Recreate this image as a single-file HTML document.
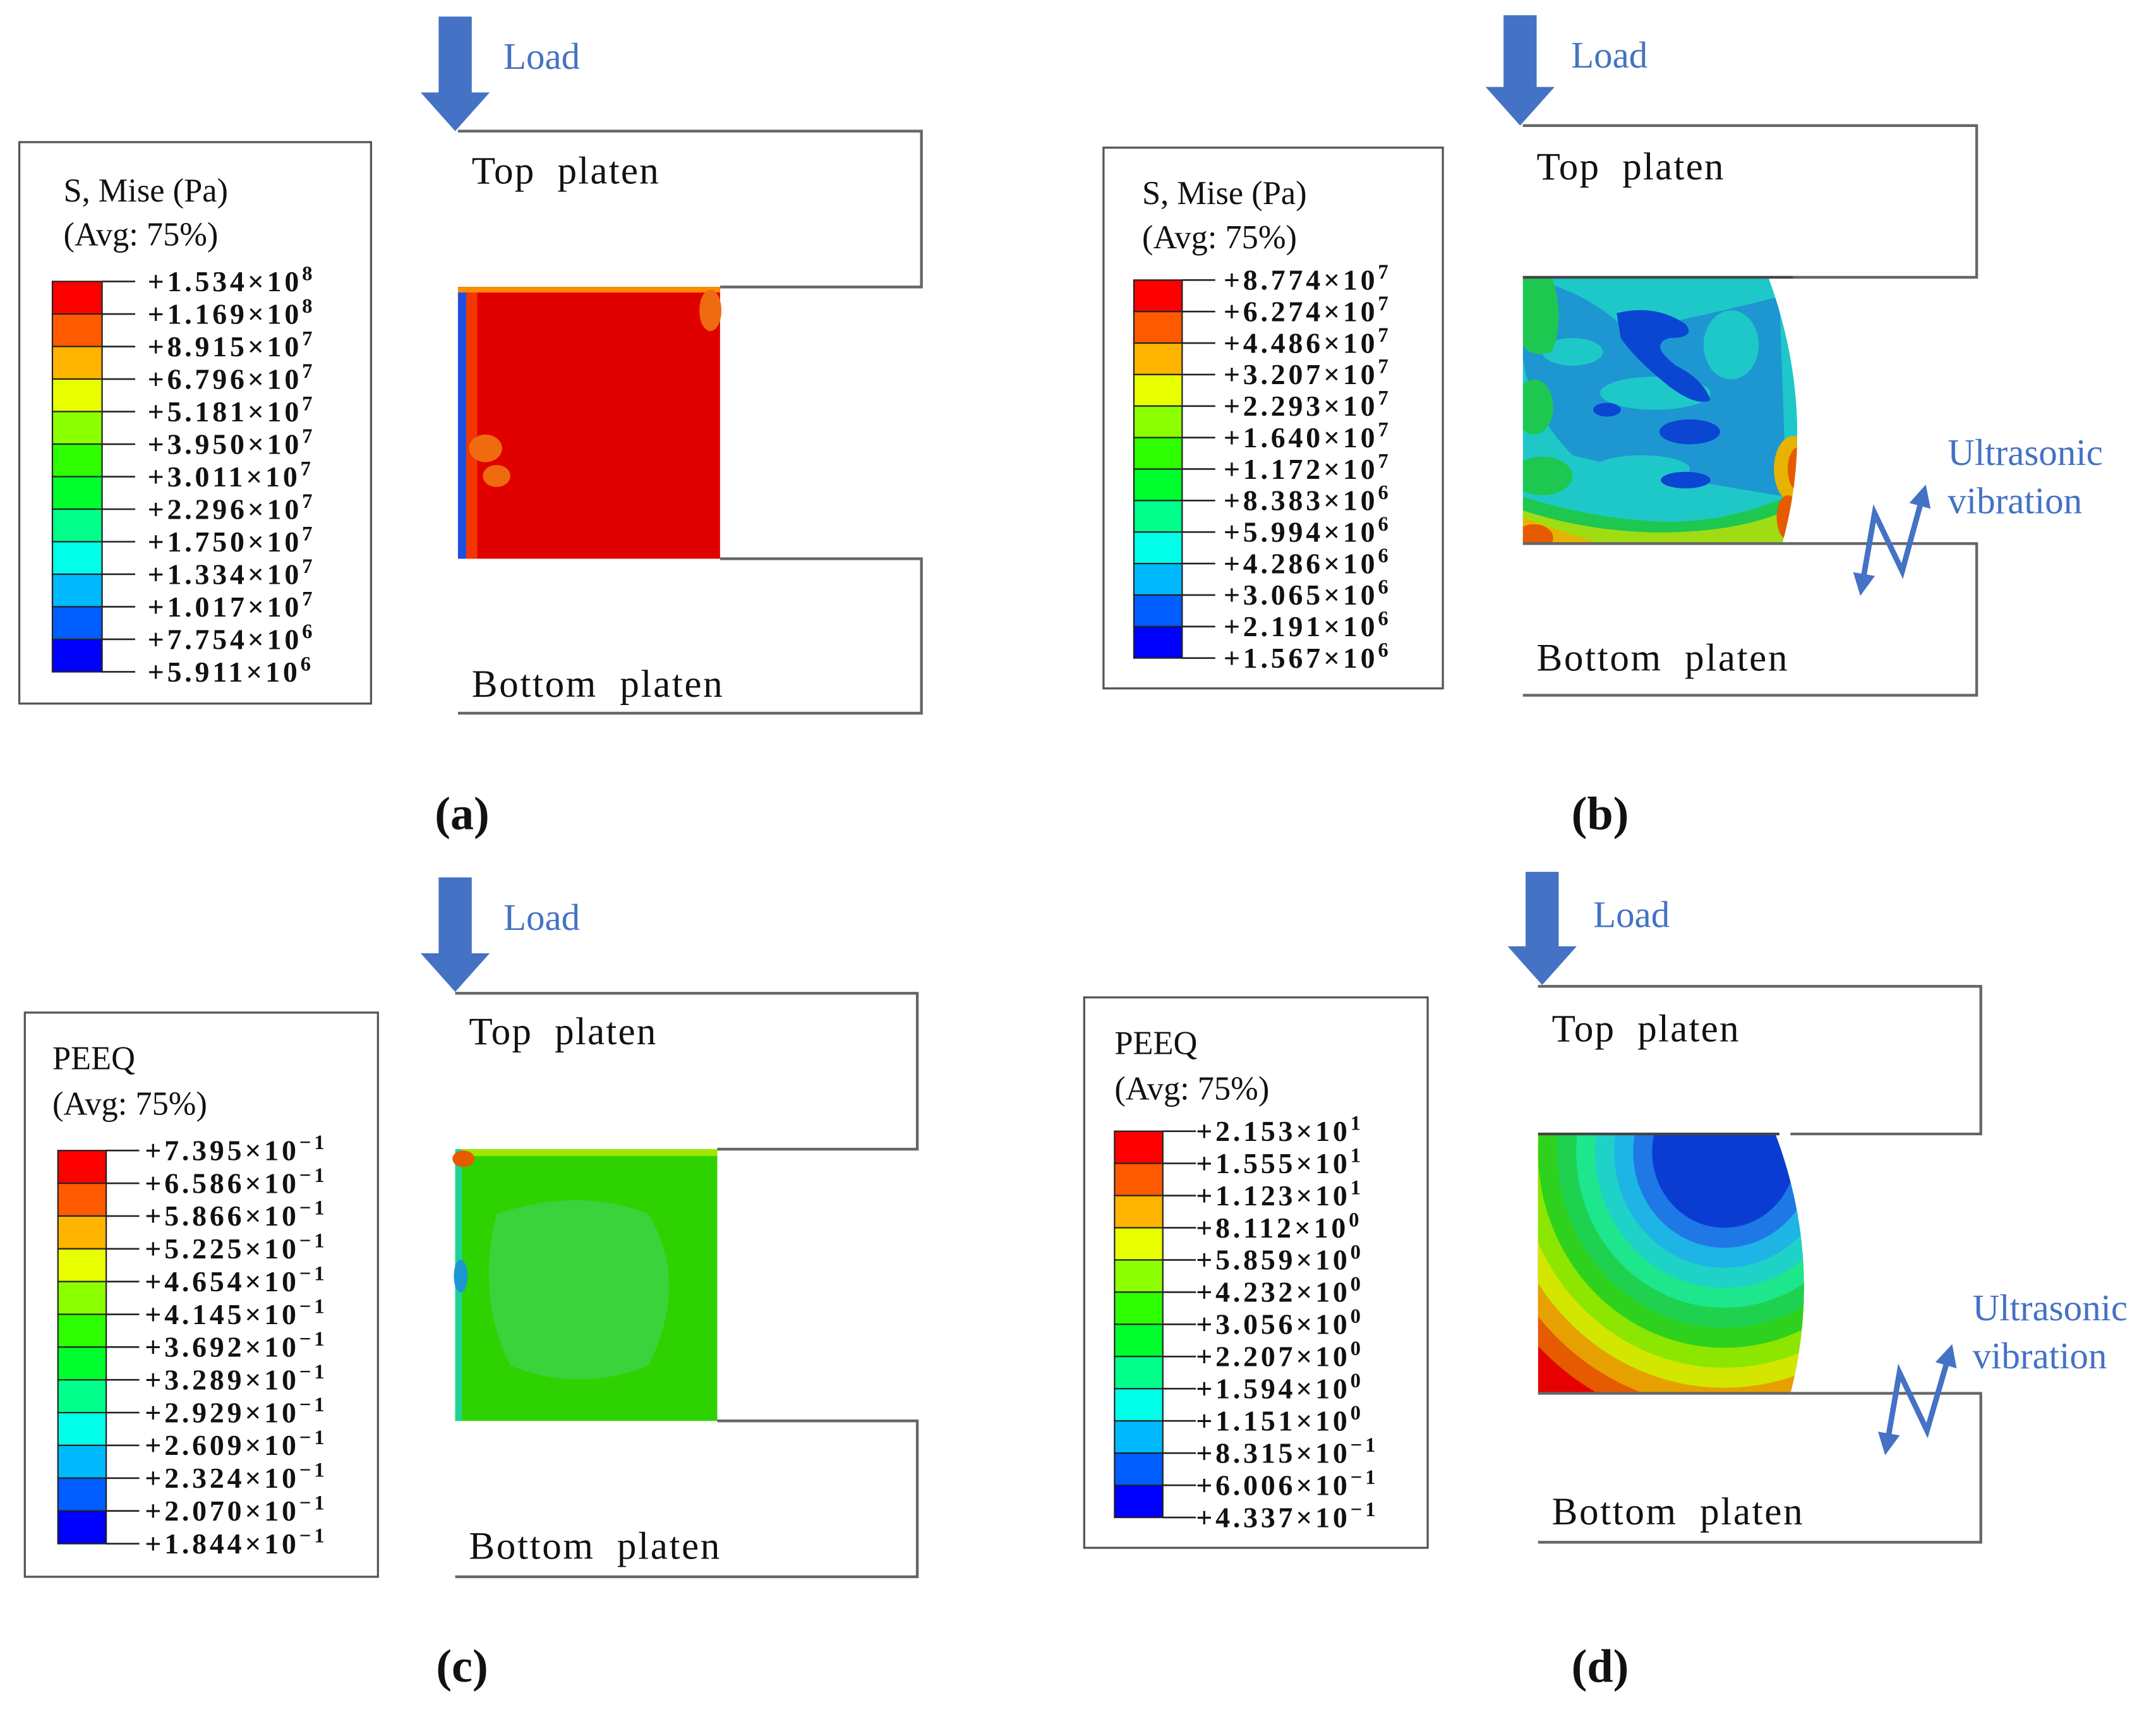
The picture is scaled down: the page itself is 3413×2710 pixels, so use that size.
<!DOCTYPE html>
<html><head><meta charset="utf-8"><style>
html,body{margin:0;padding:0;background:#fff;}
svg{display:block;}
text{font-family:"Liberation Serif",serif;}
</style></head><body>
<svg id="fig" width="3413" height="2710" viewBox="0 0 1563 1241" xmlns="http://www.w3.org/2000/svg">
<defs>
<marker id="ah" viewBox="0 0 10 10" refX="5" refY="5" markerWidth="4" markerHeight="4" orient="auto-start-reverse"><path d="M0,0 L10,5 L0,10 z" fill="#4472c4"/></marker>
<clipPath id="clipB"><path d="M1104,201 L1282,201 Q1318,300 1292,394 L1104,394 Z"/></clipPath>
<clipPath id="clipD"><path d="M1115,822 L1287,822 Q1322,915 1298,1010 L1115,1010 Z"/></clipPath>
</defs>
<rect width="1563" height="1241" fill="#fff"/>
<g id="root"></g>
</svg>
<script>
const bandColors = ["#ff0000","#ff5a00","#ffb400","#e8ff00","#8cff00","#2eff00","#00ff2e","#00ff8b","#00ffe8","#00b9ff","#005dff","#0000ff"];
const mantA = ["1.534","1.169","8.915","6.796","5.181","3.950","3.011","2.296","1.750","1.334","1.017","7.754","5.911"];
const expA  = ["8","8","7","7","7","7","7","7","7","7","7","6","6"];
const mantB = ["8.774","6.274","4.486","3.207","2.293","1.640","1.172","8.383","5.994","4.286","3.065","2.191","1.567"];
const expB  = ["7","7","7","7","7","7","7","6","6","6","6","6","6"];
const mantC = ["7.395","6.586","5.866","5.225","4.654","4.145","3.692","3.289","2.929","2.609","2.324","2.070","1.844"];
const expC  = ["\u22121","\u22121","\u22121","\u22121","\u22121","\u22121","\u22121","\u22121","\u22121","\u22121","\u22121","\u22121","\u22121"];
const mantD = ["2.153","1.555","1.123","8.112","5.859","4.232","3.056","2.207","1.594","1.151","8.315","6.006","4.337"];
const expD  = ["1","1","1","0","0","0","0","0","0","0","\u22121","\u22121","\u22121"];

const NS="http://www.w3.org/2000/svg";
const root=document.getElementById('root');
function mk(tag,attrs,parent){const e=document.createElementNS(NS,tag);for(const k in attrs)e.setAttribute(k,attrs[k]);(parent||root).appendChild(e);return e;}

function legend(name,box,title1,title2,bar,labX,mant,exp){
  const g=mk('g',{});
  
  
  const r=mk('rect',{x:box[0],y:box[1],width:box[2]-box[0],height:box[3]-box[1],fill:'#fff',stroke:'#555','stroke-width':1.5},g);
  
  
  const t1=mk('text',{x:title1[1],y:title1[2],'font-size':24,fill:'#111'},g);t1.textContent=title1[0];
  
  
  const t2=mk('text',{x:title2[1],y:title2[2],'font-size':24,fill:'#111'},g);t2.textContent=title2[0];
  
  
  const [bx,by,bw,bh]=bar; const n=bandColors.length; const h=bh/n;
  bandColors.forEach((c,i)=>{
    const b=mk('rect',{x:bx,y:by+i*h,width:bw,height:h,fill:c,stroke:'#222','stroke-width':1},g);
    
    
  });
  mant.forEach((m,i)=>{
    const y=by+i*h;
    mk('line',{x1:bx+bw,x2:bx+bw+24,y1:y,y2:y,stroke:'#222','stroke-width':1.2},g);
    const t=mk('text',{x:labX,y:y+7,'font-size':21,'font-weight':'bold',fill:'#111','letter-spacing':'2.2'},g);
    
    
    t.appendChild(document.createTextNode('+'+m+'\u00d710'));
    const s=mk('tspan',{dy:-8,'font-size':15},t);s.textContent=exp[i];
  });
}

function platens(name,x0,x1,xs,yTop,yS1,yS2,yBot,labY1,labY2){
  const g=mk('g',{});
  
  
  mk('path',{d:`M${x0},${yTop} L${x1},${yTop} L${x1},${yS1} L${xs},${yS1}`,fill:'none',stroke:'#666','stroke-width':2},g);
  mk('path',{d:`M${xs},${yS2} L${x1},${yS2} L${x1},${yBot} L${x0},${yBot}`,fill:'none',stroke:'#666','stroke-width':2},g);
  const a=mk('text',{x:x0+10,y:labY1,'font-size':28,fill:'#111','letter-spacing':'1','word-spacing':'8'},g);a.textContent='Top platen';
  
  
  const b=mk('text',{x:x0+10,y:labY2,'font-size':28,fill:'#111','letter-spacing':'1.2','word-spacing':'8'},g);b.textContent='Bottom platen';
  
  
}

function loadArrow(name,cx,y0,tip,lx,ly){
  const g=mk('g',{});
  
  
  mk('path',{d:`M${cx-12},${y0} L${cx+12},${y0} L${cx+12},${tip-28} L${cx+25},${tip-28} L${cx},${tip} L${cx-25},${tip-28} L${cx-12},${tip-28} Z`,fill:'#4472c4'},g);
  const t=mk('text',{x:lx,y:ly,'font-size':27,fill:'#4472c4'},g);t.textContent='Load';
  
  
}

function vib(name,pts,tx,ty){
  const g=mk('g',{});
  
  
  mk('polyline',{points:pts,fill:'none',stroke:'#4472c4','stroke-width':4,'stroke-linejoin':'miter','marker-start':'url(#ah)','marker-end':'url(#ah)'},g);
  const t=mk('text',{x:tx,y:ty,'font-size':27,fill:'#4472c4'},g);t.textContent='Ultrasonic';
  const t2=mk('text',{x:tx,y:ty+35,'font-size':27,fill:'#4472c4'},g);t2.textContent='vibration';
  
  
}

function panelLabel(txt,x,y){
  const t=mk('text',{x:x,y:y,'font-size':34,'font-weight':'bold',fill:'#111','text-anchor':'middle'});t.textContent=txt;
  
  
}

/* Panel a */
legend('legend-a',[14,103,269,510],['S, Mise (Pa)',46,146],['(Avg: 75%)',46,178],[38,204,36,283],107,mantA,expA);
loadArrow('load-arrow-a',330,12,95,365,50);
platens('platens-a',332,668,522,95,208,405,517,133,505);
(function(){const g=mk('g',{});
mk('rect',{x:332,y:208,width:190,height:197,fill:'#e00000'},g);
mk('rect',{x:332,y:208,width:6,height:197,fill:'#1e50e0'},g);
mk('rect',{x:338,y:208,width:8,height:197,fill:'#ff5a00',opacity:0.6},g);
mk('rect',{x:332,y:208,width:190,height:4,fill:'#ff8c00'},g);
mk('ellipse',{cx:352,cy:325,rx:12,ry:10,fill:'#f06a10'},g);
mk('ellipse',{cx:360,cy:345,rx:10,ry:8,fill:'#f06a10'},g);
mk('ellipse',{cx:515,cy:225,rx:8,ry:15,fill:'#f06a10'},g);
})();
panelLabel('(a)',335,601);

/* Panel b */
legend('legend-b',[800,107,1046,499],['S, Mise (Pa)',828,148],['(Avg: 75%)',828,180],[822,203,35,274],887,mantB,expB);
loadArrow('load-arrow-b',1102,11,91,1139,49);
platens('platens-b',1104,1433,1300,91,201,394,504,130,486);
(function(){const g=mk('g',{'clip-path':'url(#clipB)'});
mk('rect',{x:1100,y:200,width:220,height:200,fill:'#1ec8c8'},g);
mk('path',{d:'M1104,201 Q1150,210 1180,240 Q1230,230 1290,215 L1295,360 Q1200,345 1140,330 Q1110,300 1104,260 Z',fill:'#1e96d2'},g);
mk('ellipse',{cx:1200,cy:285,rx:40,ry:12,fill:'#1ec8c8'},g);
mk('ellipse',{cx:1140,cy:255,rx:22,ry:10,fill:'#1ec8c8'},g);
mk('ellipse',{cx:1255,cy:250,rx:20,ry:25,fill:'#1ec8c8'},g);
mk('ellipse',{cx:1190,cy:340,rx:35,ry:10,fill:'#1ec8c8'},g);
mk('path',{d:'M1172,227 Q1200,220 1222,235 Q1230,245 1210,245 Q1195,250 1215,265 Q1235,275 1240,290 Q1230,295 1210,280 Q1185,260 1175,245 Z',fill:'#0a46d2'},g);
mk('ellipse',{cx:1225,cy:313,rx:22,ry:9,fill:'#0a46d2'},g);
mk('ellipse',{cx:1222,cy:348,rx:18,ry:6,fill:'#0a46d2'},g);
mk('ellipse',{cx:1165,cy:297,rx:10,ry:5,fill:'#0a46d2'},g);
mk('path',{d:'M1104,201 L1125,201 Q1135,230 1125,255 Q1110,260 1104,250 Z',fill:'#1ec850'},g);
mk('ellipse',{cx:1112,cy:295,rx:14,ry:20,fill:'#1ec850'},g);
mk('ellipse',{cx:1118,cy:345,rx:22,ry:14,fill:'#1ec850'},g);
mk('path',{d:'M1104,360 Q1150,375 1200,378 Q1250,380 1295,360 L1295,400 L1104,400 Z',fill:'#1ec850'},g);
mk('path',{d:'M1104,370 Q1150,385 1200,386 Q1260,386 1295,370 L1295,400 L1104,400 Z',fill:'#a0dc14'},g);
mk('path',{d:'M1104,375 Q1130,385 1160,394 L1104,394 Z',fill:'#e6b400'},g);
mk('ellipse',{cx:1112,cy:390,rx:14,ry:10,fill:'#e65a00'},g);
mk('ellipse',{cx:1300,cy:340,rx:14,ry:24,fill:'#e6b400'},g);
mk('ellipse',{cx:1304,cy:340,rx:8,ry:16,fill:'#e65a00'},g);
mk('ellipse',{cx:1296,cy:375,rx:8,ry:16,fill:'#e65a00'},g);
})();
mk('line',{x1:1104,x2:1300,y1:201,y2:201,stroke:'#444','stroke-width':2});
mk('line',{x1:1104,x2:1300,y1:394,y2:394,stroke:'#666','stroke-width':2});
vib('vibration-arrow-b','1350,424 1359,372 1379,414 1394,359',1412,337);
panelLabel('(b)',1160,601);

/* Panel c */
legend('legend-c',[18,734,274,1143],['PEEQ',38,775],['(Avg: 75%)',38,808],[42,834,35,285],105,mantC,expC);
loadArrow('load-arrow-c',330,636,719,365,674);
platens('platens-c',330,665,520,720,833,1030,1143,757,1130);
(function(){const g=mk('g',{});
mk('rect',{x:330,y:833,width:190,height:197,fill:'#2ed200'},g);
mk('path',{d:'M360,880 Q420,860 470,880 Q500,930 470,990 Q420,1010 370,990 Q345,940 360,880 Z',fill:'#3cd23c'},g);
mk('rect',{x:330,y:833,width:190,height:5,fill:'#a0e600'},g);
mk('rect',{x:330,y:833,width:5,height:197,fill:'#1ed296'},g);
mk('ellipse',{cx:336,cy:840,rx:8,ry:6,fill:'#e65a00'},g);
mk('ellipse',{cx:334,cy:925,rx:5,ry:12,fill:'#1e96d2'},g);
})();
panelLabel('(c)',335,1219);

/* Panel d */
legend('legend-d',[786,723,1035,1122],['PEEQ',808,764],['(Avg: 75%)',808,797],[808,820,35,280],867,mantD,expD);
loadArrow('load-arrow-d',1118,632,714,1155,672);
platens('platens-d',1115,1436,1298,715,822,1010,1118,755,1105);
(function(){const g=mk('g',{'clip-path':'url(#clipD)'});
mk('rect',{x:1110,y:815,width:230,height:200,fill:'#e60000'},g);
const cols=["#e65a00","#e6a000","#d2e600","#8ce600","#2ed21e","#1ed250","#1ee68c","#1ed2c8","#1eb4e6","#1e78e6","#0a3cd2"];
cols.forEach((c,i)=>{const r=200-i*14.5;mk('ellipse',{cx:1250,cy:835,rx:r*0.95,ry:r,fill:c},g);});
})();
mk('line',{x1:1115,x2:1290,y1:822,y2:822,stroke:'#444','stroke-width':2});
mk('line',{x1:1115,x2:1298,y1:1010,y2:1010,stroke:'#666','stroke-width':2});
vib('vibration-arrow-d','1368,1047 1377,995 1397,1037 1413,982',1430,957);
panelLabel('(d)',1160,1219);
</script>
</body></html>
